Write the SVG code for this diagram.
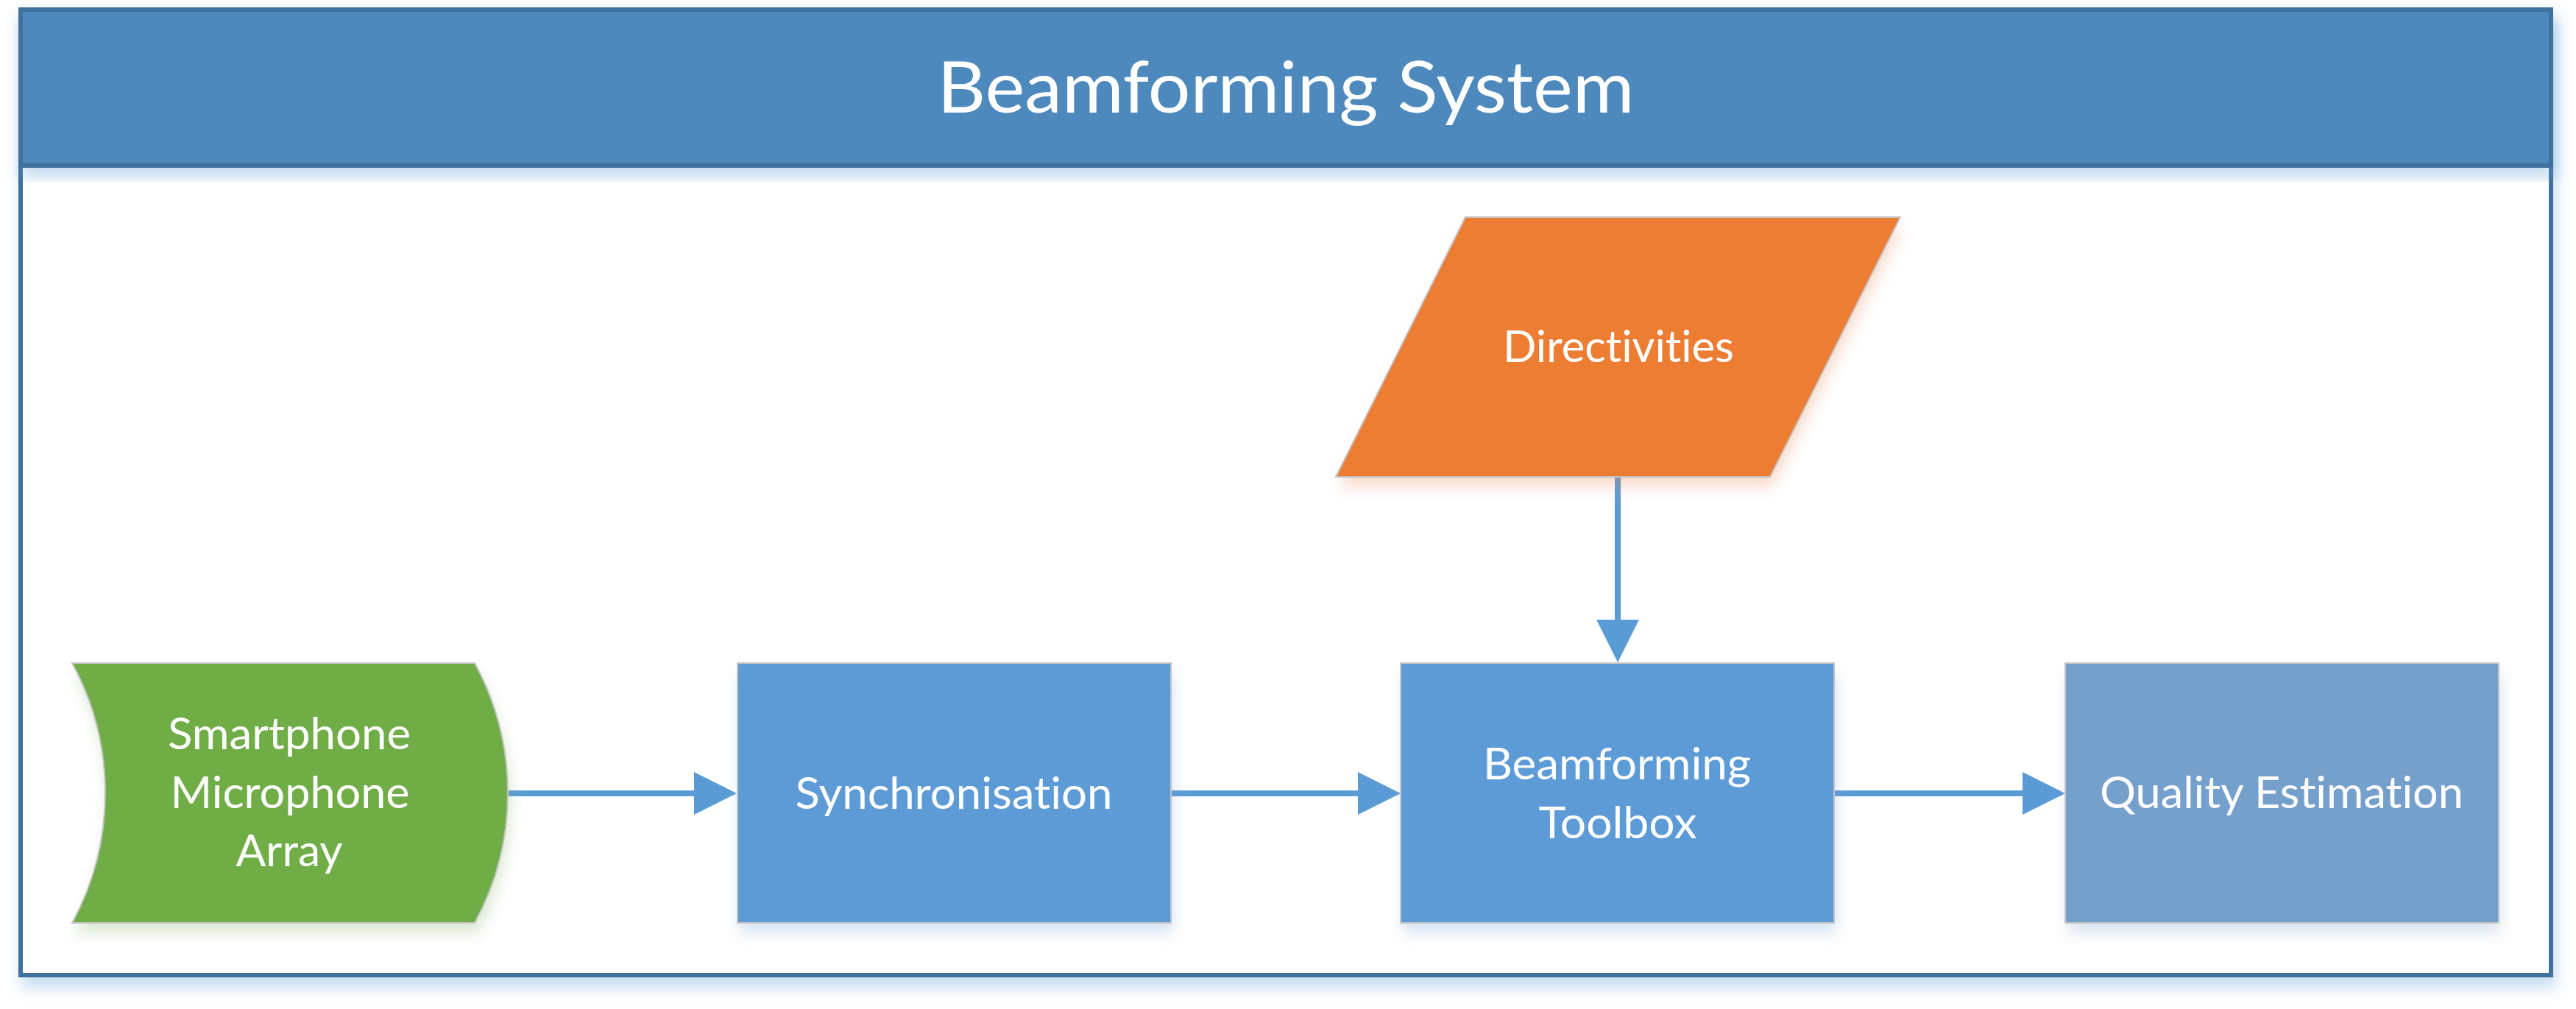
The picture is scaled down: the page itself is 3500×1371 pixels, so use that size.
<svg xmlns="http://www.w3.org/2000/svg" width="3500" height="1371" viewBox="0 0 3500 1371">
  <defs>
    <style>
      .lbl { font-family: Lato, "Open Sans", "Liberation Sans", sans-serif; font-size: 60px; fill: #FFFFFF; text-anchor: middle; font-variant-ligatures: none; }
      .title { font-family: Lato, "Open Sans", "Liberation Sans", sans-serif; font-size: 96px; fill: #FFFFFF; text-anchor: middle; font-variant-ligatures: none; }
      .shape { stroke: #C4C4C4; stroke-width: 2; filter: url(#sh); }
      .conn { fill: none; stroke: #5B9BD5; stroke-width: 8; stroke-linecap: round; marker-end: url(#ah); }
    </style>
    <filter id="sh" x="-15%" y="-15%" width="140%" height="150%">
      <feGaussianBlur in="SourceGraphic" stdDeviation="10"/>
      <feOffset dx="3" dy="14"/>
      <feComponentTransfer><feFuncA type="linear" slope="0.28"/></feComponentTransfer>
      <feMerge><feMergeNode/><feMergeNode in="SourceGraphic"/></feMerge>
    </filter>
    <filter id="fsh" x="-5%" y="-5%" width="110%" height="115%">
      <feDropShadow dx="4" dy="14" stdDeviation="10" flood-color="#5B9BD5" flood-opacity="0.35"/>
    </filter>
    <marker id="ah" markerUnits="userSpaceOnUse" markerWidth="58" markerHeight="58" viewBox="0 0 58 58" refX="0" refY="29" orient="auto">
      <path d="M0,0 L58,29 L0,58 Z" fill="#5B9BD5"/>
    </marker>
  </defs>

  <g id="frame">
    <rect x="28" y="13" width="3438" height="1312" fill="#FFFFFF" stroke="#41719C" stroke-width="6" filter="url(#fsh)"/>
    <rect x="28" y="13" width="3438" height="212" fill="#4E89BC" stroke="#41719C" stroke-width="6" filter="url(#fsh)"/>
    <text class="title" x="1747" y="153" textLength="947" lengthAdjust="spacingAndGlyphs">Beamforming System</text>
  </g>

  <g id="connectors">
    <path class="conn" d="M688,1078 L943,1078"/>
    <path class="conn" d="M1591,1078 L1845,1078"/>
    <path class="conn" d="M2492,1078 L2748,1078"/>
    <path class="conn" d="M2198,648 L2198,842"/>
  </g>

  <g id="node-smartphone">
    <path class="shape" fill="#70AD47" d="M98,901 L645,901 A369,369 0 0 1 645,1254 L98,1254 A369,369 0 0 0 98,901 Z"/>
    <text class="lbl" x="393" y="1018" textLength="330" lengthAdjust="spacingAndGlyphs">Smartphone</text>
    <text class="lbl" x="394" y="1098" textLength="325" lengthAdjust="spacingAndGlyphs">Microphone</text>
    <text class="lbl" x="393" y="1177" textLength="145" lengthAdjust="spacingAndGlyphs">Array</text>
  </g>

  <g id="node-sync">
    <rect class="shape" x="1002" y="901" width="589" height="353" fill="#5B9BD5"/>
    <text class="lbl" x="1296" y="1099" textLength="431" lengthAdjust="spacingAndGlyphs">Synchronisation</text>
  </g>

  <g id="node-directivities">
    <path class="shape" fill="#ED7D31" d="M1991,295 L2582,295 L2405,648 L1815,648 Z"/>
    <text class="lbl" x="2199" y="492" textLength="314" lengthAdjust="spacingAndGlyphs">Directivities</text>
  </g>

  <g id="node-toolbox">
    <rect class="shape" x="1903" y="901" width="589" height="353" fill="#5B9BD5"/>
    <text class="lbl" x="2197" y="1059" textLength="364" lengthAdjust="spacingAndGlyphs">Beamforming</text>
    <text class="lbl" x="2198" y="1139" textLength="215" lengthAdjust="spacingAndGlyphs">Toolbox</text>
  </g>

  <g id="node-quality">
    <rect class="shape" x="2806" y="901" width="589" height="353" fill="#76A0CC"/>
    <text class="lbl" x="3100" y="1098" textLength="494" lengthAdjust="spacingAndGlyphs">Quality Estimation</text>
  </g>
</svg>
